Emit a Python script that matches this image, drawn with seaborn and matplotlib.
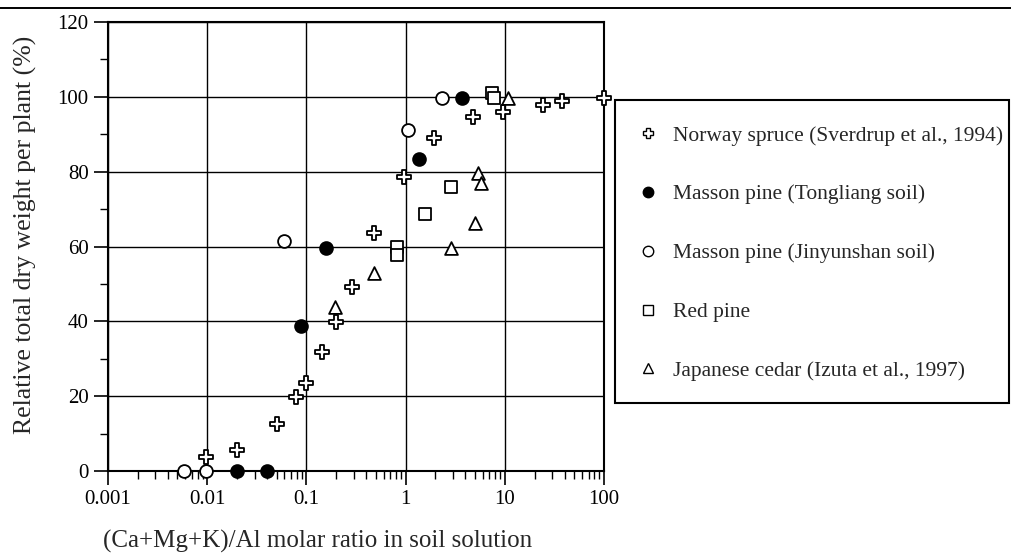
import numpy as np
import pandas as pd
import matplotlib
matplotlib.use("Agg")
import matplotlib.pyplot as plt
import seaborn as sns
from matplotlib.lines import Line2D
from matplotlib.patches import Rectangle

# ---------------- data ----------------
spruce_x = [0.0097, 0.020, 0.050, 0.078, 0.098, 0.144, 0.197, 0.29, 0.48, 0.97, 1.95, 4.8, 9.7, 24.4, 38.0, 99.0]
spruce_y = [3.8, 5.6, 12.6, 19.9, 23.6, 31.9, 39.8, 49.1, 63.5, 78.7, 88.9, 94.7, 95.9, 97.8, 98.8, 99.7]

tong_x = [0.020, 0.040, 0.088, 0.158, 1.36, 3.67]
tong_y = [0.0, 0.0, 38.8, 59.7, 83.4, 99.8]

jin_x = [0.0059, 0.0097, 0.059, 1.05, 2.31]
jin_y = [0.0, 0.0, 61.5, 91.2, 99.8]

red_x = [0.82, 0.82, 1.57, 2.87, 7.4, 7.8]
red_y = [60.0, 57.8, 68.6, 76.0, 101.0, 99.8]

cedar_x = [0.194, 0.48, 2.87, 5.0, 5.4, 5.7, 10.7]
cedar_y = [43.8, 53.0, 59.7, 66.4, 79.6, 77.0, 99.8]

series_names = [
    "Norway spruce (Sverdrup et al., 1994)",
    "Masson pine (Tongliang soil)",
    "Masson pine (Jinyunshan soil)",
    "Red pine",
    "Japanese cedar (Izuta et al., 1997)",
]
x_ticks = [0.001, 0.01, 0.1, 1, 10, 100]
x_tick_labels = ["0.001", "0.01", "0.1", "1", "10", "100"]
y_ticks = [0, 20, 40, 60, 80, 100, 120]

# ---------------- style ----------------
sns.set_style("white")
plt.rcParams["font.family"] = ["Liberation Serif", "DejaVu Serif"]

fig = plt.figure(figsize=(10.11, 5.56), dpi=100)
W, H = 1011, 556
ax = fig.add_axes([108 / W, 1 - 471 / H, (604 - 108) / W, (471 - 22) / H])

all_series = [
    (spruce_x, spruce_y, "P", "white", 100),
    (tong_x, tong_y, "o", "black", 85),
    (jin_x, jin_y, "o", "white", 85),
    (red_x, red_y, "s", "white", 80),
    (cedar_x, cedar_y, "^", "white", 85),
]

frames = []
for name, (xs, ys, mk, fc, sz) in zip(series_names, all_series):
    frames.append(pd.DataFrame({"x": xs, "y": ys, "series": name}))
df = pd.concat(frames, ignore_index=True)

handles = []
for name, (xs, ys, mk, fc, sz) in zip(series_names, all_series):
    sub = df[df["series"] == name]
    sns.scatterplot(data=sub, x="x", y="y", marker=mk, color=fc, edgecolor="black",
                    linewidth=1.3, s=sz, ax=ax, zorder=5, legend=False, clip_on=False)
    handles.append(Line2D([], [], linestyle="none", marker=mk, markerfacecolor=fc,
                          markeredgecolor="black", markeredgewidth=1.0,
                          markersize=7.5, label=name))

ax.set_xscale("log")
ax.set_xlim(0.001, 100)
ax.set_ylim(0, 120)
ax.set_xticks(x_ticks)
ax.set_xticklabels(x_tick_labels)
ax.set_yticks(y_ticks)
ax.set_yticks(np.arange(10, 120, 20), minor=True)
ax.xaxis.set_minor_locator(matplotlib.ticker.LogLocator(base=10, subs=np.arange(2, 10)))
ax.xaxis.set_minor_formatter(matplotlib.ticker.NullFormatter())

ax.tick_params(axis="both", which="both", bottom=True, left=True, top=False, right=False)
ax.tick_params(axis="both", which="major", direction="out", length=10, width=1.2,
               color="black", labelsize=15, labelcolor="black", pad=4)
ax.tick_params(axis="both", which="minor", direction="out", length=5.5, width=1.0, color="black")

ax.grid(True, which="major", color="black", linewidth=1.0)
ax.set_axisbelow(True)
for sp in ax.spines.values():
    sp.set_visible(True)
    sp.set_color("black")
    sp.set_linewidth(1.5)

ax.set_xlabel("(Ca+Mg+K)/Al molar ratio in soil solution", fontsize=18)
ax.set_ylabel("Relative total dry weight per plant (%)", fontsize=18.5)
# positions in axes coordinates
ax.xaxis.set_label_coords((318 - 108) / (604 - 108), -(541 - 471) / (471 - 22), transform=ax.transAxes)
ax.yaxis.set_label_coords(-(108 - 25) / (604 - 108), (471 - 235) / (471 - 22), transform=ax.transAxes)
ax.xaxis.label.set_verticalalignment("center")
ax.yaxis.label.set_verticalalignment("center")

# legend (frame drawn separately)
leg = ax.legend(handles=handles, loc="upper left", bbox_to_anchor=(615 / W, 1 - 103 / H),
                bbox_transform=fig.transFigure, frameon=False, fontsize=15.5,
                handlelength=1.0, handletextpad=0.65, borderpad=1.05, labelspacing=1.8,
                borderaxespad=0)
fig.add_artist(Rectangle((615 / W, 1 - 403 / H), (1009 - 615) / W, (403 - 100) / H,
                         transform=fig.transFigure, fill=False, edgecolor="black", linewidth=1.5))

# cropped rule line at very top (from the page above the figure)
fig.add_artist(Line2D([0.0, 1.0], [1 - 8 / H, 1 - 8 / H], transform=fig.transFigure,
                      color="black", linewidth=1.4))

fig.savefig("out.png", dpi=100)
